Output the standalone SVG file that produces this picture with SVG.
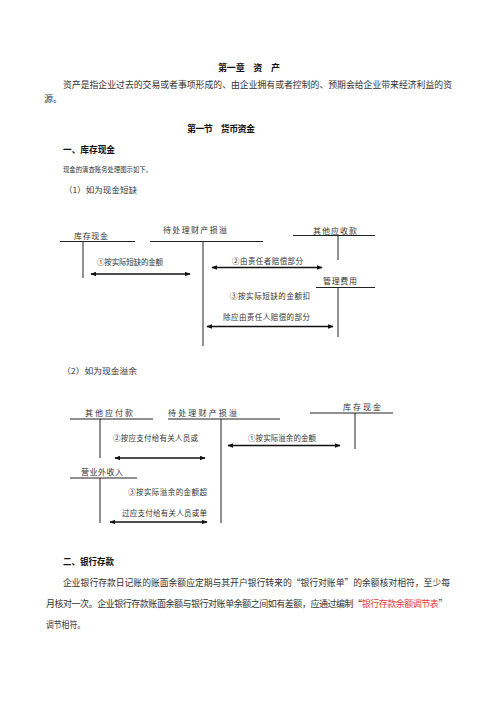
<svg xmlns="http://www.w3.org/2000/svg" width="496" height="702" viewBox="0 0 496 702">
<defs>
<style>
text{font-family:"Noto Sans CJK SC","Noto Sans",sans-serif;fill:#333}
.h{font-weight:bold;fill:#111}
.b{font-size:9px}
.s{font-size:7px}
.t{font-size:8px}
.a{font-size:7.5px}
.ln{stroke:#222;stroke-width:1;fill:none}
.ar{stroke:#111;stroke-width:1.3;fill:none;marker-start:url(#ah);marker-end:url(#ah)}
.red{fill:#e53935}
</style>
<marker id="ah" viewBox="0 0 8 6" refX="7" refY="3" markerWidth="6" markerHeight="4.5" markerUnits="userSpaceOnUse" orient="auto-start-reverse">
<path d="M0,0 L8,3 L0,6 Z" fill="#111"/>
</marker>
</defs>
<rect width="496" height="702" fill="#fff"/>

<g id="text-top">
<text class="b h" x="218" y="71" textLength="62" lengthAdjust="spacing">第一章　资　产</text>
<text class="b" x="63" y="87.5" textLength="389" lengthAdjust="spacingAndGlyphs">资产是指企业过去的交易或者事项形成的、由企业拥有或者控制的、预期会给企业带来经济利益的资</text>
<text class="b" x="44" y="101.5">源。</text>
<text class="b h" x="187" y="131.5" textLength="68" lengthAdjust="spacing">第一节　货币资金</text>
<text class="b h" x="63" y="152.5" textLength="52" lengthAdjust="spacingAndGlyphs">一、库存现金</text>
<text class="s" x="63" y="172" textLength="89" lengthAdjust="spacingAndGlyphs">现金的清查账务处理图示如下。</text>
<text class="t" x="64" y="193" textLength="73" lengthAdjust="spacingAndGlyphs">（1）如为现金短缺</text>
</g>

<g id="node-kucun1">
<text class="t" x="74" y="239" textLength="34" lengthAdjust="spacing">库存现金</text>
<path class="ln" d="M60,241.5H135M83,241.5V278"/>
</g>
<g id="node-daichuli1">
<text class="t" x="163" y="233" textLength="64" lengthAdjust="spacing">待处理财产损溢</text>
<path class="ln" d="M150,241.5H263M203,241.5V346"/>
</g>
<g id="node-qitayingshou">
<text class="t" x="313" y="233.5" textLength="44" lengthAdjust="spacing">其他应收款</text>
<path class="ln" d="M293,235.5H375M338,235.5V260"/>
</g>
<g id="node-guanli">
<text class="t" x="323" y="283.5" textLength="34" lengthAdjust="spacing">管理费用</text>
<path class="ln" d="M316,287.5H375M338,287.5V337"/>
</g>

<g id="connectors-1">
<line class="ar" x1="91" y1="274" x2="190" y2="274"/>
<line class="ar" x1="212" y1="267.5" x2="322" y2="267.5"/>
<line class="ar" x1="207" y1="326.5" x2="333" y2="326.5"/>
<text class="a" x="97" y="265" textLength="66" lengthAdjust="spacing">①按实际短缺的金额</text>
<text class="a" x="232" y="264" textLength="71" lengthAdjust="spacing">②由责任者赔偿部分</text>
<text class="a" x="230" y="299" textLength="80" lengthAdjust="spacing">③按实际短缺的金额扣</text>
<text class="a" x="223" y="319.5" textLength="87" lengthAdjust="spacing">除应由责任人赔偿的部分</text>
</g>

<text class="t" x="62" y="373.5" textLength="75" lengthAdjust="spacingAndGlyphs">（2）如为现金溢余</text>

<g id="node-qitayingfu">
<text class="t" x="85" y="415.5" textLength="48" lengthAdjust="spacing">其他应付款</text>
<path class="ln" d="M70,419H153M100,419V458"/>
</g>
<g id="node-daichuli2">
<text class="t" x="168" y="415.5" textLength="69" lengthAdjust="spacing">待处理财产损溢</text>
<path class="ln" d="M168,419H280M221,419V523"/>
</g>
<g id="node-kucun2">
<text class="t" x="343" y="409.5" textLength="38" lengthAdjust="spacing">库存现金</text>
<path class="ln" d="M310,413H393M355,413V449"/>
</g>
<g id="node-yingyewai">
<text class="t" x="81" y="474.5" textLength="42" lengthAdjust="spacing">营业外收入</text>
<path class="ln" d="M70,478H137M100,478V523"/>
</g>

<g id="connectors-2">
<line class="ar" x1="228" y1="445.5" x2="340" y2="445.5"/>
<line class="ar" x1="115" y1="458" x2="205" y2="458"/>
<line class="ar" x1="110" y1="522" x2="207" y2="522"/>
<text class="a" x="248" y="441" textLength="68" lengthAdjust="spacing">①按实际溢余的金额</text>
<text class="a" x="113" y="441" textLength="85" lengthAdjust="spacing">②按应支付给有关人员或</text>
<text class="a" x="128" y="495" textLength="79" lengthAdjust="spacing">③按实际溢余的金额超</text>
<text class="a" x="122" y="516" textLength="85" lengthAdjust="spacing">过应支付给有关人员或单</text>
</g>

<g id="text-bottom">
<text class="b h" x="63" y="564.5" textLength="51" lengthAdjust="spacingAndGlyphs">二、银行存款</text>
<text class="b" x="63" y="585.5" textLength="387" lengthAdjust="spacingAndGlyphs">企业银行存款日记账的账面余额应定期与其开户银行转来的“银行对账单”的余额核对相符，至少每</text>
<text class="b" x="46" y="606.5" letter-spacing="-0.47">月核对一次。企业银行存款账面余额与银行对账单余额之间如有差额，应通过编制“<tspan class="red">银行存款余额调节表</tspan>”</text>
<text class="b" x="46" y="628" textLength="39" lengthAdjust="spacingAndGlyphs">调节相符。</text>
</g>
</svg>
